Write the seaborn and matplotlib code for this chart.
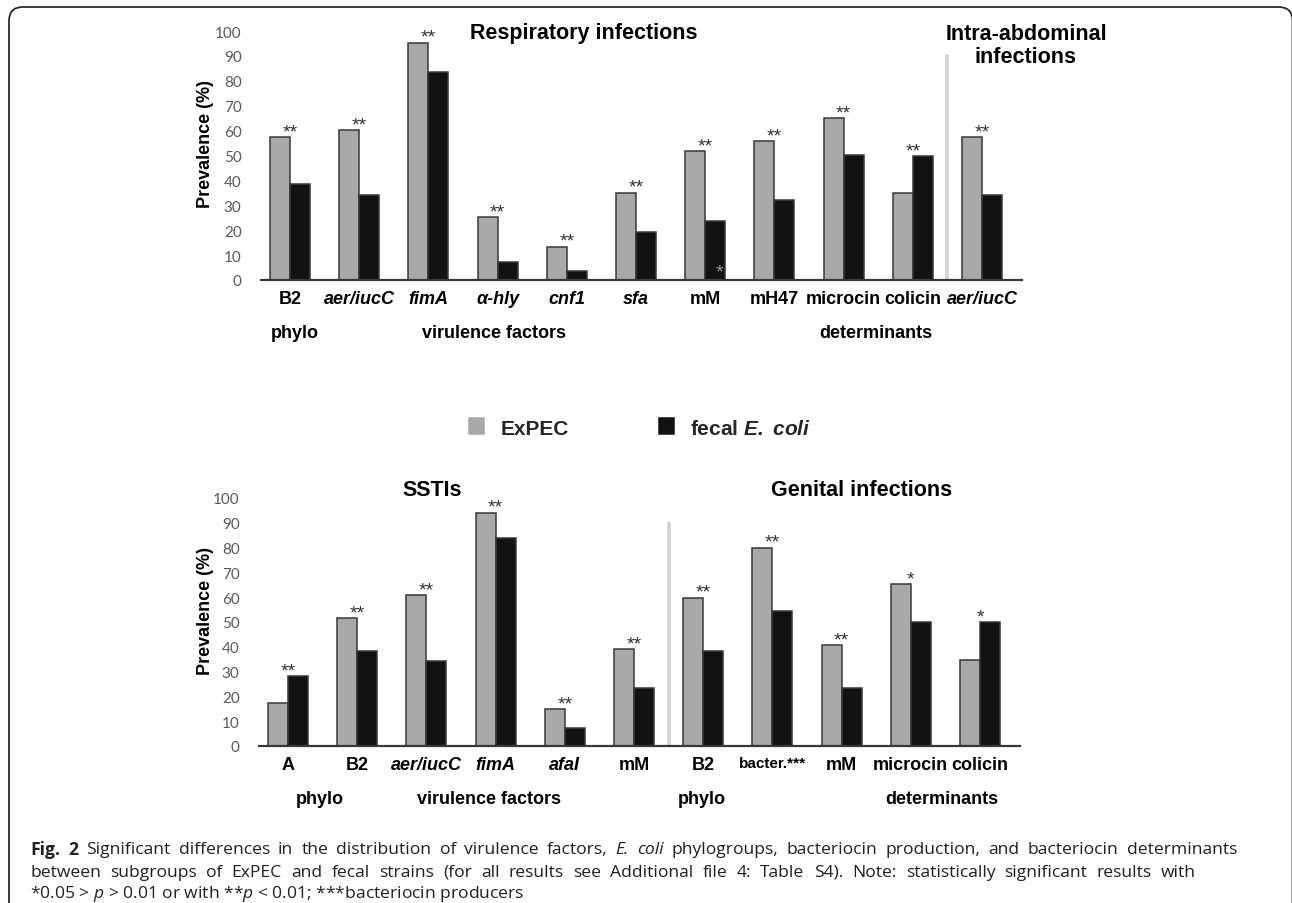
import numpy as np
import pandas as pd
import matplotlib
matplotlib.use("Agg")
import matplotlib.pyplot as plt
import seaborn as sns
from matplotlib.patches import FancyBboxPatch
from matplotlib.transforms import IdentityTransform

# ---------------- data ----------------
series_names = ["ExPEC", "fecal E. coli"]

top_categories = ["B2", "aer/iucC", "fimA", "α-hly", "cnf1", "sfa", "mM", "mH47",
                  "microcin", "colicin", "aer/iucC"]
top_italic = [False, True, True, True, True, True, False, False, False, False, True]
top_expec = [57.5, 60.2, 95.3, 25.2, 13.4, 35.1, 51.9, 55.9, 65.1, 34.9, 57.4]
top_fecal = [38.4, 34.3, 83.5, 7.1, 3.7, 19.4, 23.7, 32.2, 50.1, 49.9, 34.3]
top_stars = ["**", "**", "**", "**", "**", "**", "**", "**", "**", "**", "**"]

bottom_categories = ["A", "B2", "aer/iucC", "fimA", "afaI", "mM", "B2", "bacter.***",
                     "mM", "microcin", "colicin"]
bottom_italic = [False, False, True, True, True, False, False, False, False, False, False]
bottom_expec = [17.5, 51.7, 61.0, 94.1, 14.8, 39.0, 59.8, 80.0, 40.7, 65.3, 34.5]
bottom_fecal = [28.2, 38.3, 34.1, 83.7, 7.4, 23.5, 38.3, 54.3, 23.5, 50.0, 50.0]
bottom_stars = ["**", "**", "**", "**", "**", "**", "**", "**", "**", "*", "*"]

top_groups = ["phylo", "virulence factors", "determinants"]
bottom_groups = ["phylo", "virulence factors", "phylo", "determinants"]

y_ticks = [0, 10, 20, 30, 40, 50, 60, 70, 80, 90, 100]

# caption words: (word, style) with style b=bold, i=italic, r=regular
caption_line1 = [("Fig.", "b"), ("2", "b")] + [(w, "r") for w in
    "Significant differences in the distribution of virulence factors,".split()] + \
    [("E.", "i"), ("coli", "i")] + [(w, "r") for w in
    "phylogroups, bacteriocin production, and bacteriocin determinants".split()]
caption_line2 = [(w, "r") for w in (
    "between subgroups of ExPEC and fecal strains (for all results see Additional "
    "file 4: Table S4). Note: statistically significant results with").split()]
caption_line3 = r"*0.05 > $\mathit{p}$ > 0.01 or with **$\mathit{p}$ < 0.01; ***bacteriocin producers"

# ---------------- style ----------------
sns.set_style("white")
plt.rcParams["font.family"] = ["Liberation Sans", "DejaVu Sans"]
plt.rcParams["mathtext.fontset"] = "custom"
plt.rcParams["mathtext.rm"] = "Open Sans"
plt.rcParams["mathtext.it"] = "Open Sans:italic"
plt.rcParams["mathtext.bf"] = "Open Sans:bold"
plt.rcParams["mathtext.bfit"] = "Liberation Sans:italic:bold"

GRAY = "#a9a9a9"
BLACK = "#121212"
EDGE = "#383838"
TICKGRAY = "#595959"
CAPCOL = "#231f20"

W, H = 1292, 904
fig = plt.figure(figsize=(W / 100, H / 100), dpi=100)
fig.patch.set_facecolor("white")


def fx(x):
    return x / W


def fy(y):
    return 1 - y / H


def panel(left, right, top, bottom, cats, italic, expec, fecal, stars, sep_x,
          ylabel_y, want_legend):
    ax = fig.add_axes([fx(left), fy(bottom), (right - left) / W, (bottom - top) / H])
    n = len(cats)
    keys = [f"{i}|{c}" for i, c in enumerate(cats)]
    df = pd.DataFrame({
        "key": keys + keys,
        "value": list(expec) + list(fecal),
        "series": [series_names[0]] * n + [series_names[1]] * n,
    })
    sns.barplot(data=df, x="key", y="value", hue="series", order=keys,
                hue_order=series_names, palette=[GRAY, BLACK], saturation=1,
                width=0.578, edgecolor=EDGE, linewidth=1.1, errorbar=None,
                ax=ax, legend=want_legend, zorder=3)
    handles = None
    if want_legend:
        handles, _ = ax.get_legend_handles_labels()
        ax.legend_.remove()
    ax.set_xlim(-0.419, 10.578)
    ax.set_ylim(0, 100)
    for s in ["top", "right", "left"]:
        ax.spines[s].set_visible(False)
    ax.spines["bottom"].set_color(EDGE)
    ax.spines["bottom"].set_linewidth(1.6)
    ax.spines["bottom"].set_zorder(4)
    ax.set_xlabel("")
    ax.set_xticks(range(n))
    ax.set_xticklabels(cats)
    for lbl, it, c in zip(ax.get_xticklabels(), italic, cats):
        lbl.set_fontweight("bold")
        lbl.set_fontstyle("italic" if it else "normal")
        lbl.set_fontsize(11 if c.startswith("bacter") else 13)
        lbl.set_color("black")
    ax.tick_params(axis="x", length=0, pad=7)
    ax.set_yticks(y_ticks)
    ax.set_yticklabels([str(t) for t in y_ticks], fontfamily="Lato", fontsize=11,
                       color=TICKGRAY)
    ax.tick_params(axis="y", length=0, pad=14)
    ax.set_ylabel("Prevalence (%)", fontsize=13, fontweight="bold", color="black")
    ax.yaxis.set_label_coords((214 - left) / (right - left), ylabel_y)
    ax.axvline(sep_x, ymin=0, ymax=0.9, color="#d2d2d2", lw=2.6, zorder=1)
    for i in range(n):
        tallest = max(expec[i], fecal[i])
        ax.text(i, tallest + 0.3, stars[i], ha="center", va="baseline",
                fontsize=14, color="#333333", zorder=5)
    return ax, handles


ax_top, handles = panel(261, 1022, 32, 281, top_categories, top_italic, top_expec,
                        top_fecal, top_stars, 9.5, 0.55, True)
# faint stray asterisk present in the scan
ax_top.text(6.21, 1.6, "*", ha="center", va="baseline", fontsize=14,
            color="#a0a0a0", zorder=5)

ax_bot, _ = panel(259, 1020, 499, 747, bottom_categories, bottom_italic,
                  bottom_expec, bottom_fecal, bottom_stars, 5.5, 0.55, False)

# panel titles
title_kw = dict(fontsize=15.5, fontweight="bold", ha="center", va="center",
                color="black")
fig.text(fx(584), fy(34), "Respiratory infections", **title_kw)
fig.text(fx(1026), fy(46), "Intra-abdominal\ninfections", linespacing=1.12,
         **title_kw)
fig.text(fx(432), fy(491), "SSTIs", **title_kw)
fig.text(fx(862), fy(491), "Genital infections", **title_kw)

# group labels under the category labels
grp_kw = dict(fontsize=13, fontweight="bold", ha="center", va="center",
              color="black")
for g, x in zip(top_groups, [295, 494, 876]):
    fig.text(fx(x), fy(334), g, **grp_kw)
for g, x in zip(bottom_groups, [320, 489, 702, 942]):
    fig.text(fx(x), fy(800), g, **grp_kw)

# legend
leg = fig.legend(handles, ["ExPEC", r"fecal $\mathbfit{E.}$ $\mathbfit{coli}$"],
                 loc="center left", bbox_to_anchor=(fx(469), fy(429)), ncol=2,
                 frameon=False, prop={"family": "Liberation Sans",
                                      "weight": "bold", "size": 15},
                 handlelength=0.72, handleheight=0.77, handletextpad=0.8,
                 columnspacing=4.3, borderpad=0, borderaxespad=0)
for h, c in zip(leg.legend_handles, [GRAY, BLACK]):
    h.set_edgecolor(c)
    h.set_facecolor(c)

# caption
renderer = fig.canvas.get_renderer()
CAP_SIZE = 12.6
style_map = {"b": dict(fontweight="bold"), "i": dict(fontstyle="italic"), "r": {}}


def justified(tokens, x0, x1, y):
    texts = []
    for word, st in tokens:
        t = fig.text(0, fy(y), word, fontsize=CAP_SIZE, fontfamily="Open Sans",
                     ha="left", va="center", color=CAPCOL, **style_map[st])
        texts.append(t)
    widths = [t.get_window_extent(renderer).width for t in texts]
    gap = (x1 - x0 - sum(widths)) / (len(texts) - 1)
    x = x0
    for t, w in zip(texts, widths):
        t.set_x(fx(x))
        x += w + gap


justified(caption_line1, 30, 1237, 850)
justified(caption_line2, 30, 1196, 873)
fig.text(fx(30), fy(894), caption_line3, fontsize=CAP_SIZE, fontfamily="Open Sans",
         ha="left", va="center", color=CAPCOL)

# rounded frame (open at the bottom, right side at the image edge)
frame = FancyBboxPatch((9, -60), 1283.5, 956, boxstyle="round,pad=0,rounding_size=14",
                       transform=IdentityTransform(), fill=False,
                       edgecolor="#2b2b2b", lw=1.3)
fig.add_artist(frame)

fig.savefig("out.png", dpi=100)
